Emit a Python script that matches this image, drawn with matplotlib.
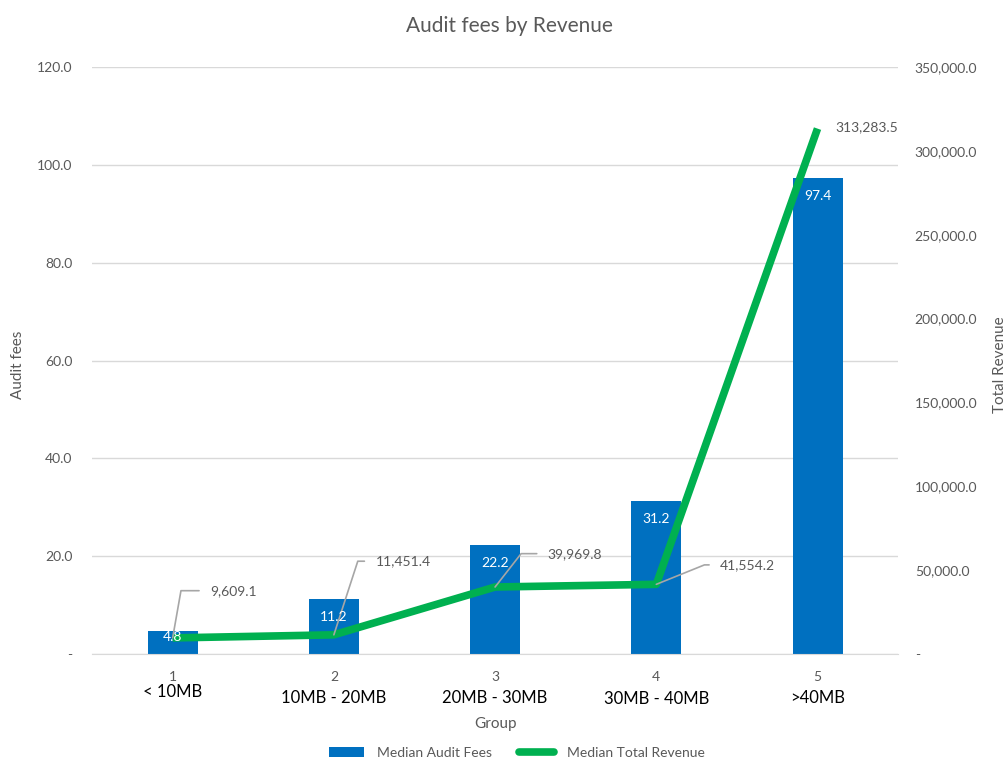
import matplotlib
matplotlib.use('Agg')
from matplotlib import pyplot as plt
from matplotlib.ticker import FuncFormatter
import matplotlib.transforms as mtransforms

plt.rcParams['font.family'] = ['Lato', 'DejaVu Sans']

groups = [1, 2, 3, 4, 5]
group_names = ['< 10MB', '10MB - 20MB', '20MB - 30MB', '30MB - 40MB', '>40MB']
audit_fees = [4.8, 11.2, 22.2, 31.2, 97.4]
total_revenue = [9609.1, 11451.4, 39969.8, 41554.2, 313283.5]

grey = '#595959'
bar_color = '#0070C0'
line_color = '#00B050'

fig = plt.figure(figsize=(10.08, 7.59), dpi=100)
ax = fig.add_axes([0.0913, 0.1383, 0.7997, 0.7734])
ax2 = ax.twinx()

bars = ax.bar(groups, audit_fees, width=0.31, color=bar_color, zorder=2, label='Median Audit Fees')
ax.set_xlim(0.5, 5.5)
ax.set_ylim(0, 120)
ax.set_yticks(range(0, 121, 20))
ax.yaxis.set_major_formatter(FuncFormatter(lambda v, p: '-' if v == 0 else f'{v:.1f}'))
ax.grid(axis='y', color='#D9D9D9', linewidth=1, zorder=0)
ax.set_axisbelow(True)
for s in ['top', 'left', 'right']:
    ax.spines[s].set_visible(False)
ax.spines['bottom'].set_color('#D9D9D9')
ax.tick_params(axis='y', length=0, colors=grey, labelsize=10, pad=14)
ax.tick_params(axis='x', length=0, colors=grey, labelsize=10, pad=12)
ax.set_xticks(groups)
ax.set_xticklabels([str(g) for g in groups])

line, = ax2.plot(groups, total_revenue, color=line_color, linewidth=5.5, solid_capstyle='butt',
                 zorder=4, label='Median Total Revenue')
ax2.set_ylim(0, 350000)
ax2.set_yticks(range(0, 350001, 50000))
ax2.yaxis.set_major_formatter(FuncFormatter(lambda v, p: '-' if v == 0 else f'{v:,.1f}'))
ax2.tick_params(axis='y', length=0, colors=grey, labelsize=10, pad=12)
for s in ['top', 'left', 'right', 'bottom']:
    ax2.spines[s].set_visible(False)

# bar value labels, inside end (drawn on ax2 so they sit above the line)
for b, v in zip(bars, audit_fees):
    drop = 13 if v > 8 else 5
    ax2.annotate(f'{v:.1f}', xy=(b.get_x() + b.get_width() / 2, v), xycoords=ax.transData,
                 xytext=(0, -drop), textcoords='offset points', ha='center', va='center',
                 color='white', fontsize=10, zorder=6)

# data labels with leader lines (offsets in points)
offsets = [(27, 34), (30, 53), (38, 24), (46, 14), (13, 1)]
leader_angles = [80, 72, 52, 22, None]
for x, v, off, ang in zip(groups, total_revenue, offsets, leader_angles):
    arrow = None
    if ang is not None:
        arrow = dict(arrowstyle='-', color='#A6A6A6', lw=1.2, shrinkA=6, shrinkB=0,
                     connectionstyle=f'angle,angleA=0,angleB={ang},rad=0')
    ax2.annotate(f'{v:,.1f}', xy=(x, v), xytext=off, textcoords='offset points',
                 ha='left', va='center', fontsize=10, color=grey, zorder=5, arrowprops=arrow)

trans = mtransforms.blended_transform_factory(ax.transData, fig.transFigure)
name_y = [0.088, 0.081, 0.081, 0.079, 0.081]
for x, name, yy in zip(groups, group_names, name_y):
    fig.text(x, yy, name, transform=trans, ha='center', va='center', fontsize=12, color='black')

fig.text(0.5, 0.046, 'Group', ha='center', va='center', fontsize=11, color=grey,
         transform=mtransforms.blended_transform_factory(ax.transAxes, fig.transFigure))
fig.text(0.018, 0.52, 'Audit fees', rotation=90, ha='center', va='center', fontsize=11, color=grey)
fig.text(0.992, 0.52, 'Total Revenue', rotation=90, ha='center', va='center', fontsize=11, color=grey)
fig.text(0.505, 0.966, 'Audit fees by Revenue', ha='center', va='center', fontsize=15, color=grey)

leg = fig.legend(handles=[bars, line], labels=['Median Audit Fees', 'Median Total Revenue'],
                 loc='center', bbox_to_anchor=(0.513, 0.008), ncol=2, frameon=False,
                 fontsize=10, labelcolor=grey, handlelength=2.5, handletextpad=1.0,
                 columnspacing=1.9)
leg.get_lines()[0].set_solid_capstyle('round')

fig.savefig('out.png', dpi=100)
